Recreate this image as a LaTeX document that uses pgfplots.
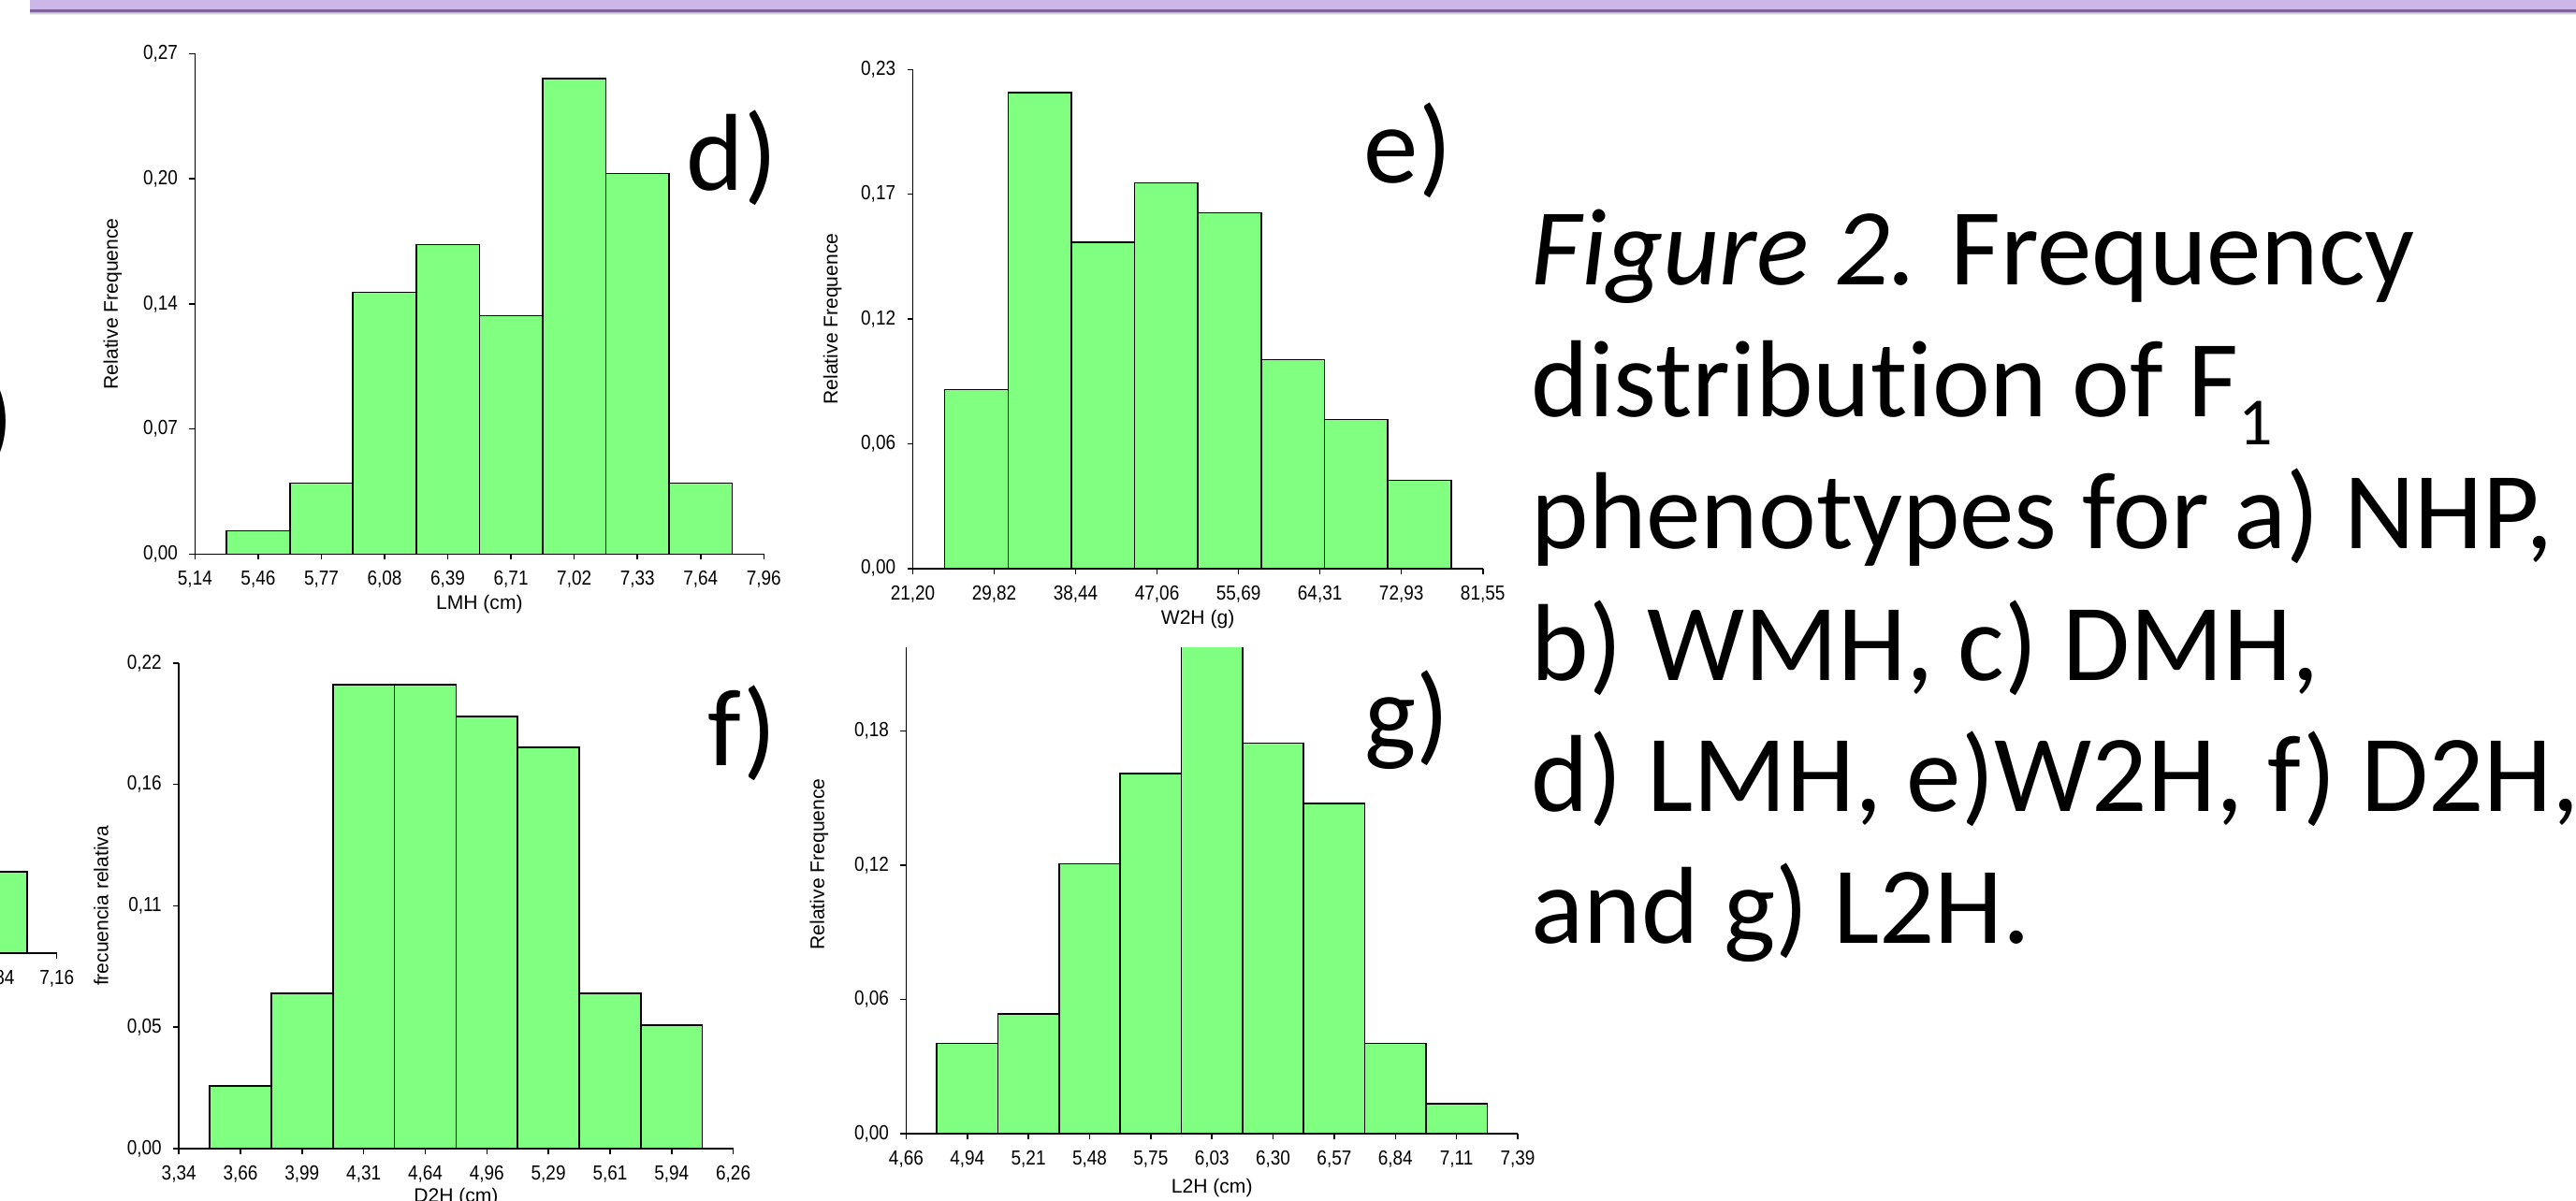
\documentclass[border=0pt]{standalone}
\usepackage{fontspec}
\usepackage{pgfplots}
\pgfplotsset{compat=1.18}
\newfontfamily\capfam[Ligatures=NoCommon]{Carlito}
\newfontfamily\tickfam[FakeStretch=0.87]{Liberation Sans}
\newfontfamily\labfam{Liberation Sans}
\definecolor{hgreen}{RGB}{128,255,128}
\definecolor{bandfill}{RGB}{203,184,232}
\definecolor{bandline}{RGB}{128,100,162}
\newcommand\tickfont{\tickfam\fontsize{6.2}{7}\selectfont}
\newcommand\labfont{\labfam\fontsize{6}{7}\selectfont}
\newcommand\bigfont{\capfam\fontsize{33.3}{40}\selectfont}
\pgfplotsset{
  hist/.style={
    scale only axis,
    axis lines=left,
    axis line style={-, line width=0.45pt},
    enlargelimits=false,
    tick align=outside,
    major tick length=0.06cm,
    every tick/.style={black, line width=0.45pt},
    ymin=0,
    ybar,
    ticklabel style={font=\tickfont},
    label style={font=\labfont},
    xlabel style={anchor=center},
    ylabel style={anchor=center},
  },
  histbar/.style={fill=hgreen, draw=black, line width=0.45pt},
}
\begin{document}
\begin{tikzpicture}
\useasboundingbox (0,0) rectangle (27.53cm,12.83cm);
% top band
\shade[top color=black!35, bottom color=white] (0.32cm,12.67cm) rectangle (27.6cm,12.71cm);
\fill[bandline] (0.32cm,12.705cm) rectangle (27.6cm,12.735cm);
\fill[bandfill] (0.32cm,12.73cm) rectangle (27.6cm,12.9cm);

% partial panel c (mostly off page)
\begin{axis}[hist, at={(-0.667cm,2.64cm)}, anchor=south west,
  width=1.274cm, height=1.2cm,
  xmin=6.52, xmax=7.16, ymax=0.05, bar width=0.32,
  xtick={6.52,6.84,7.16}, xticklabels={{6,52},{6,84},{7,16}},
  ytick=\empty]
\addplot[histbar] coordinates {(6.84,0.0363)};
\end{axis}

% panel d
\begin{axis}[hist, at={(2.084cm,6.907cm)}, anchor=south west,
  width=6.079cm, height=5.35cm,
  xmin=5.14, xmax=7.96, ymax=0.27, bar width=0.313333,
  xtick={5.14,5.453333,5.766667,6.08,6.393333,6.706667,7.02,7.333333,7.646667,7.96},
  xticklabels={{5,14},{5,46},{5,77},{6,08},{6,39},{6,71},{7,02},{7,33},{7,64},{7,96}},
  ytick={0,0.0675,0.135,0.2025,0.27},
  yticklabels={{0,00},{0,07},{0,14},{0,20},{0,27}},
  xlabel={LMH (cm)}, ylabel={Relative Frequence},
  xlabel style={at={(axis description cs:0.5,-0.1004)}},
  ylabel style={at={(axis description cs:-0.1446,0.5)}}]
\addplot[histbar] coordinates {(5.453333,0.0126) (5.766667,0.0383) (6.08,0.1413) (6.393333,0.167) (6.706667,0.1287) (7.02,0.2566) (7.333333,0.2053) (7.646667,0.0383)};
\end{axis}

% panel e
\begin{axis}[hist, at={(9.755cm,6.753cm)}, anchor=south west,
  width=6.092cm, height=5.334cm,
  xmin=21.2, xmax=81.55, ymax=0.23, bar width=6.701,
  xtick={21.2,29.82143,38.44286,47.06429,55.68571,64.30714,72.92857,81.55},
  xticklabels={{21,20},{29,82},{38,44},{47,06},{55,69},{64,31},{72,93},{81,55}},
  ytick={0,0.0575,0.115,0.1725,0.23},
  yticklabels={{0,00},{0,06},{0,12},{0,17},{0,23}},
  xlabel={W2H (g)}, ylabel={Relative Frequence},
  xlabel style={at={(axis description cs:0.5,-0.1018)}},
  ylabel style={at={(axis description cs:-0.1407,0.5)}}]
\addplot[histbar] coordinates {(27.937,0.0824) (34.638,0.2194) (41.339,0.1504) (48.040,0.1778) (54.741,0.164) (61.442,0.0962) (68.143,0.0687) (74.844,0.0407)};
\end{axis}

% panel f
\begin{axis}[hist, at={(1.912cm,0.55cm)}, anchor=south west,
  width=5.924cm, height=5.192cm,
  xmin=3.34, xmax=6.26, ymax=0.22, bar width=0.324444,
  xtick={3.34,3.664444,3.988889,4.313333,4.637778,4.962222,5.286667,5.611111,5.935556,6.26},
  xticklabels={{3,34},{3,66},{3,99},{4,31},{4,64},{4,96},{5,29},{5,61},{5,94},{6,26}},
  ytick={0,0.055,0.11,0.165,0.22},
  yticklabels={{0,00},{0,05},{0,11},{0,16},{0,22}},
  xlabel={D2H (cm)}, ylabel={frecuencia relativa},
  xlabel style={at={(axis description cs:0.5,-0.100)}},
  ylabel style={at={(axis description cs:-0.1404,0.5)}}]
\addplot[histbar] coordinates {(3.664444,0.0285) (3.988889,0.0704) (4.313333,0.2101) (4.637778,0.2101) (4.962222,0.1958) (5.286667,0.1818) (5.611111,0.0704) (5.935556,0.0559)};
\end{axis}

% panel g (top hidden)
\begin{axis}[hist, at={(9.684cm,0.71cm)}, anchor=south west,
  width=6.536cm, height=5.2cm,
  xmin=4.66, xmax=7.39, ymax=0.2174, bar width=0.273,
  xtick={4.66,4.933,5.206,5.479,5.752,6.025,6.298,6.571,6.844,7.117,7.39},
  xticklabels={{4,66},{4,94},{5,21},{5,48},{5,75},{6,03},{6,30},{6,57},{6,84},{7,11},{7,39}},
  ytick={0,0.06,0.12,0.18},
  yticklabels={{0,00},{0,06},{0,12},{0,18}},
  xlabel={L2H (cm)}, ylabel={Relative Frequence},
  xlabel style={at={(axis description cs:0.5,-0.1115)}},
  ylabel style={at={(axis description cs:-0.1421,0.554)}}]
\addplot[histbar] coordinates {(4.933,0.0404) (5.206,0.0536) (5.479,0.1207) (5.752,0.1609) (6.025,0.2533) (6.298,0.1745) (6.571,0.1475) (6.844,0.0404) (7.117,0.0134)};
\end{axis}

% panel letters
\node[anchor=base west, inner sep=0, font=\bigfont] at (-0.21cm,7.98cm) {)};
\node[anchor=base west, inner sep=0, font=\bigfont] at (7.33cm,10.794cm) {d)};
\node[anchor=base west, inner sep=0, font=\bigfont] at (14.57cm,10.873cm) {e)};
\node[anchor=base west, inner sep=0, font=\bigfont] at (7.56cm,4.65cm) {f)};
\node[anchor=base west, inner sep=0, font=\bigfont] at (14.58cm,4.81cm) {g)};

% caption
\begin{scope}[every node/.style={anchor=base west, inner sep=0, font=\bigfont}]
\node at (16.36cm,9.79cm) {\textit{Figure 2.} Frequency};
\node at (16.36cm,8.38cm) {distribution of F\raisebox{-0.30cm}{\fontsize{20.5}{24}\selectfont 1}};
\node at (16.36cm,6.97cm) {phenotypes for a) NHP,};
\node at (16.36cm,5.56cm) {b) WMH, c) DMH,};
\node at (16.36cm,4.16cm) {d) LMH, e)W2H, f) D2H,};
\node at (16.36cm,2.75cm) {and g) L2H.};
\end{scope}
\end{tikzpicture}
\end{document}
